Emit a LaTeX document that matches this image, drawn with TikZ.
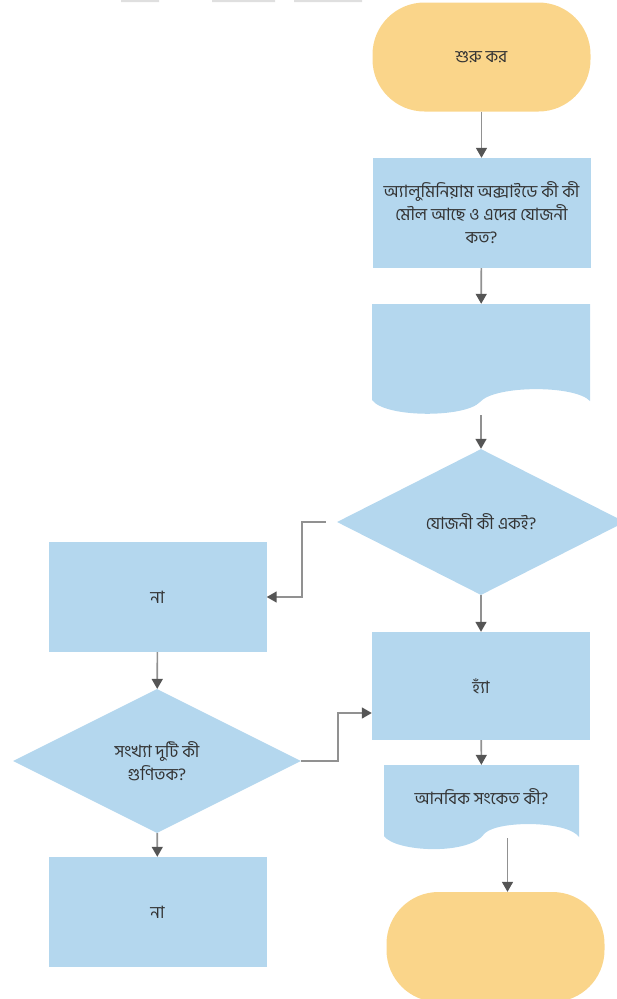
\documentclass[tikz,border=0pt]{standalone}
\usepackage{fontspec}
\newfontfamily\bnfont[Script=Bengali]{Hind Siliguri}
\usetikzlibrary{shapes.geometric,arrows.meta}
\definecolor{boxblue}{RGB}{180,215,238}
\definecolor{termyellow}{RGB}{250,213,138}
\definecolor{linegray}{RGB}{145,145,145}
\definecolor{headgray}{RGB}{85,85,85}
\definecolor{txtgray}{RGB}{51,51,51}

\begin{document}
\begin{tikzpicture}[x=1pt,y=-1pt,
  every node/.style={font=\bnfont\fontsize{17}{23}\selectfont,text=txtgray,align=center,inner sep=0pt},
  term/.style={fill=termyellow,rounded corners=52pt,minimum width=218pt,minimum height=109pt},
  box/.style={fill=boxblue,minimum width=218pt,minimum height=110pt},
  dec/.style={fill=boxblue,diamond,minimum width=288pt,minimum height=146pt},
  arr/.style={draw=linegray,line width=1.6pt,-{Triangle[width=11pt,length=10pt,color=headgray]}}]
  \useasboundingbox (0,0) rectangle (617,999);
  \clip (0,0) rectangle (617,999);
  \fill[gray!25] (121,0) rectangle (159,2) (212,0) rectangle (275,2) (294,0) rectangle (362,2);

  \fill[boxblue] (372,304) -- (590,304) -- (590,401) .. controls (575,385) and (495,385) .. (480,402)
    .. controls (465,418) and (385,418) .. (372,400) -- cycle;
  \fill[boxblue] (384,765) -- (579,765) -- (579,837) .. controls (568,821) and (500,820) .. (485,833)
    .. controls (470,856) and (395,852) .. (384,836) -- cycle;

  \path (481.5,57) node[term] (start) {শুরু কর}
  (481.5,213) node[box] (ask) {অ্যালুমিনিয়াম অক্সাইডে কী কী\\মৌল আছে ও এদের যোজনী\\কত?}
  (481,353) node[minimum width=218pt,minimum height=98pt] (doc1) {}
  (481,522) node[dec] (same) {যোজনী কী একই?}
  (157.5,597) node[box] (no1) {না}
  (157,761) node[dec,minimum height=144pt] (mult) {সংখ্যা দুটি কী\\গুণিতক?}
  (157.5,912) node[box] (no2) {না}
  (481,686) node[box,minimum height=108pt] (yes) {হ্যাঁ}
  (481.5,797) node[minimum width=195pt,minimum height=64pt] (doc2) {আনবিক সংকেত কী?}
  (495.5,947) node[term,minimum height=110pt] (end) {};

  \draw[arr] (start) -- (ask);
  \draw[arr] (ask) -- (doc1);
  \draw[arr] ([yshift=-13pt]doc1.south) -- (same);
  \draw[arr] ([xshift=-11pt]same.west) -- ++(-24,0) |- (no1.east);
  \draw[arr] (same) -- (yes);
  \draw[arr] (no1) -- (mult);
  \draw[arr] (mult) -- (no2);
  \draw[arr] (mult.east) -- ++(37,0) |- ([yshift=-27pt]yes.west);
  \draw[arr] (yes) -- (doc2);
  \draw[arr] ([xshift=26pt,yshift=-9pt]doc2.south) -- ([xshift=26pt]doc2.south |- end.north);
\end{tikzpicture}
\end{document}
